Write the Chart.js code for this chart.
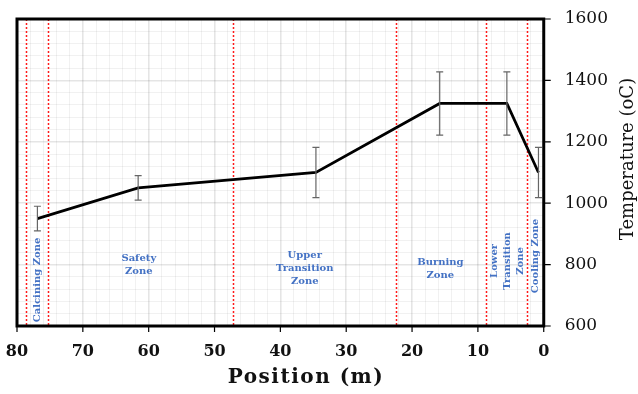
<!DOCTYPE html>
<html>
<head>
<meta charset="utf-8">
<script src="https://cdn.jsdelivr.net/npm/chart.js@4.4.1/dist/chart.umd.min.js"></script>
<style>
    html, body { margin: 0; padding: 0; background: #fff; }
    #wrap { width: 638px; height: 394px; }
</style>
</head>
<body>
<div id="wrap"><canvas id="graficaHorno"></canvas></div>
<script>
// datos
const posiciones = [76.9, 61.6, 34.6, 15.8, 5.6, 0.8];
const temperaturas = [950, 1050, 1100, 1325, 1325, 1100];
const errores = [40, 40, 82, 103, 103, 82];
const limitesZona = [78.6, 75.25, 47.2, 22.4, 8.8, 2.5];
const nombresZona = [
    ["Calcining Zone"],
    ["Safety", "Zone"],
    ["Upper", "Transition", "Zone"],
    ["Burning", "Zone"],
    ["Lower", "Transition", "Zone"],
    ["Cooling Zone"]
];
const tituloX = "Position (m)";
const tituloY = "Temperature (oC)";

// donde va cada etiqueta (unidades de los ejes)
const colocacionEtiquetas = [
    { x: 76.9, y: 750, vertical: true },
    { x: 61.5, y: 800, vertical: false },
    { x: 36.3, y: 786, vertical: false },
    { x: 15.7, y: 787, vertical: false },
    { x: 5.5, y: 812, vertical: true },
    { x: 1.3, y: 828, vertical: true }
];

const fuenteSerif = "'DejaVu Serif', 'Liberation Serif', serif";
const azulZona = "#4472c4";

const pluginZonas = {
    id: "zonas",
    beforeDatasetsDraw(chart) {
        const { ctx, chartArea, scales } = chart;
        ctx.save();
        // lineas rojas punteadas
        ctx.strokeStyle = "#ff1a1a";
        ctx.lineWidth = 1.5;
        ctx.setLineDash([2, 2]);
        limitesZona.forEach(limite => {
            const x = Math.round(scales.x.getPixelForValue(limite)) + 0.5;
            ctx.beginPath();
            ctx.moveTo(x, chartArea.top);
            ctx.lineTo(x, chartArea.bottom);
            ctx.stroke();
        });
        ctx.setLineDash([]);
        // nombres de zona
        ctx.fillStyle = azulZona;
        ctx.font = `bold 10px ${fuenteSerif}`;
        ctx.textAlign = "center";
        ctx.textBaseline = "middle";
        nombresZona.forEach((lineas, i) => {
            const sitio = colocacionEtiquetas[i];
            const px = scales.x.getPixelForValue(sitio.x);
            const py = scales.y.getPixelForValue(sitio.y);
            ctx.save();
            ctx.translate(px, py);
            if (sitio.vertical) ctx.rotate(-Math.PI / 2);
            lineas.forEach((linea, j) => {
                ctx.fillText(linea, 0, (j - (lineas.length - 1) / 2) * 13);
            });
            ctx.restore();
        });
        ctx.restore();
    },
    afterDatasetsDraw(chart) {
        const { ctx, scales } = chart;
        ctx.save();
        // barras de error
        ctx.strokeStyle = "#666";
        ctx.lineWidth = 1.2;
        posiciones.forEach((pos, i) => {
            const x = scales.x.getPixelForValue(pos);
            const arriba = scales.y.getPixelForValue(temperaturas[i] + errores[i]);
            const abajo = scales.y.getPixelForValue(temperaturas[i] - errores[i]);
            ctx.beginPath();
            ctx.moveTo(x, arriba);
            ctx.lineTo(x, abajo);
            ctx.moveTo(x - 3.5, arriba);
            ctx.lineTo(x + 3.5, arriba);
            ctx.moveTo(x - 3.5, abajo);
            ctx.lineTo(x + 3.5, abajo);
            ctx.stroke();
        });
        ctx.restore();
    },
    afterDraw(chart) {
        const { ctx, chartArea, scales } = chart;
        ctx.save();
        // marcas cortas en los valores principales
        ctx.strokeStyle = "#000";
        ctx.lineWidth = 1.2;
        ctx.beginPath();
        scales.x.ticks.filter(t => t.value % 10 === 0).forEach(t => {
            const x = scales.x.getPixelForValue(t.value);
            ctx.moveTo(x, chartArea.bottom);
            ctx.lineTo(x, chartArea.bottom + 6);
        });
        scales.y.ticks.filter(t => t.value % 200 === 0).forEach(t => {
            const y = scales.y.getPixelForValue(t.value);
            ctx.moveTo(chartArea.right, y);
            ctx.lineTo(chartArea.right + 7, y);
        });
        ctx.stroke();
        // marco
        ctx.lineWidth = 3;
        ctx.strokeRect(chartArea.left, chartArea.top, chartArea.right - chartArea.left, chartArea.bottom - chartArea.top);
        // titulos de ejes
        ctx.fillStyle = "#111";
        ctx.textAlign = "center";
        ctx.textBaseline = "alphabetic";
        ctx.font = `bold 20px ${fuenteSerif}`;
        ctx.letterSpacing = "1.5px";
        ctx.fillText(tituloX, 306, 383);
        ctx.letterSpacing = "0px";
        ctx.translate(633, 159);
        ctx.rotate(-Math.PI / 2);
        ctx.font = `18px ${fuenteSerif}`;
        ctx.fillText(tituloY, 0, 0);
        ctx.restore();
    }
};

function colorRejilla(paso) {
    return ctx => (ctx.tick && ctx.tick.value % paso === 0) ? "rgba(0,0,0,0.1)" : "rgba(0,0,0,0.055)";
}

function grosorRejilla(paso) {
    return ctx => (ctx.tick && ctx.tick.value % paso === 0) ? 1.6 : 1;
}

new Chart(document.getElementById("graficaHorno"), {
    type: "scatter",
    data: {
        datasets: [{
            label: "Temperatura",
            data: posiciones.map((pos, i) => ({ x: pos, y: temperaturas[i] })),
            showLine: true,
            borderColor: "#000",
            borderWidth: 2.8,
            pointRadius: 0,
            tension: 0
        }]
    },
    options: {
        responsive: true,
        maintainAspectRatio: false,
        animation: false,
        layout: { padding: { left: 17, top: 19, right: 30, bottom: 32 } },
        plugins: { legend: { display: false }, tooltip: { enabled: false } },
        scales: {
            x: {
                type: "linear",
                reverse: true,
                min: 0,
                max: 80,
                border: { display: false },
                grid: { color: colorRejilla(10), lineWidth: grosorRejilla(10), tickColor: "rgba(0,0,0,0)", tickLength: 16 },
                ticks: {
                    stepSize: 2,
                    autoSkip: false,
                    maxRotation: 0,
                    padding: 0,
                    color: "#111",
                    font: { family: fuenteSerif, size: 16, weight: "bold", lineHeight: 1.25 },
                    callback: valor => valor % 10 === 0 ? valor : ""
                }
            },
            y: {
                position: "right",
                min: 600,
                max: 1600,
                border: { display: false },
                grid: { color: colorRejilla(200), lineWidth: grosorRejilla(200), tickColor: "rgba(0,0,0,0)", tickLength: 21 },
                ticks: {
                    stepSize: 40,
                    autoSkip: false,
                    padding: 0,
                    color: "#111",
                    font: { family: fuenteSerif, size: 17 },
                    callback: valor => valor % 200 === 0 ? valor : ""
                }
            }
        }
    },
    plugins: [pluginZonas]
});
</script>
</body>
</html>
